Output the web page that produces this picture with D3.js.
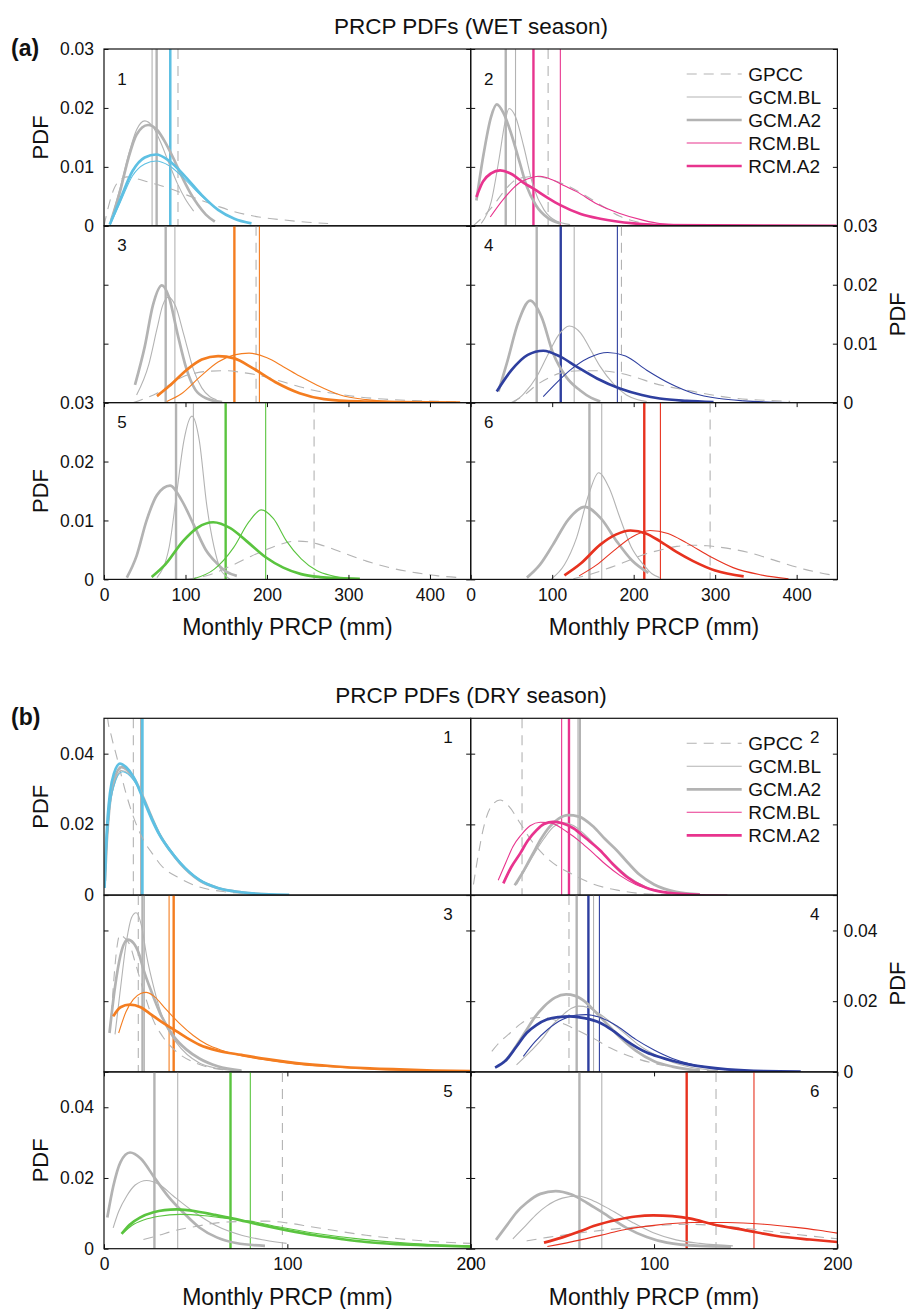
<!DOCTYPE html>
<html><head><meta charset="utf-8">
<script src="https://cdn.jsdelivr.net/npm/d3@7"></script>
<style>body{margin:0;background:#fff}svg{display:block;font-family:"Liberation Sans",Arial,Helvetica,sans-serif}</style>
</head><body><svg id="c" width="914" height="1309"></svg>
<script>
// ---------- DATA ----------
const SERIES = ["GPCC","GCM.BL","GCM.A2","RCM.BL","RCM.A2"];
const PANEL_COLORS = ["#5ec0e3","#e8348e","#f47d20","#2e3f9f","#5ac43f","#e7321f"];
const WET_X_TICKS = [0,100,200,300,400];
const DRY_X_TICKS = [0,100,200];
const WET_Y_TICKS = [0,0.01,0.02,0.03];
const DRY_Y_TICKS = [0,0.02,0.04];
const TITLES = ["PRCP PDFs (WET season)","PRCP PDFs (DRY season)"];
const FIG_LABELS = ["(a)","(b)"];

// WET season: each panel = [GPCC, GCM.BL, GCM.A2, RCM.BL, RCM.A2] as [mm, pdf]
const wet1 = [
 [[0,0],[5,0.003],[12,0.0062],[20,0.0078],[28,0.0083],[40,0.008],[55,0.0074],[70,0.0068],[85,0.0061],[100,0.0053],[120,0.0043],[140,0.0033],[160,0.0024],[190,0.0015],[220,0.001],[250,0.0006],[275,0.0004]],
 [[8,0.001],[20,0.0065],[30,0.012],[40,0.0163],[50,0.0178],[60,0.0168],[70,0.014],[80,0.0105],[90,0.0072],[100,0.0045],[110,0.0025]],
 [[12,0.002],[20,0.006],[30,0.0115],[40,0.0155],[54,0.0171],[65,0.0163],[75,0.0142],[85,0.0115],[95,0.0085],[105,0.0058],[115,0.0036],[125,0.0019],[136,0.0007]],
 [[8,0.0003],[20,0.004],[35,0.0085],[50,0.0105],[64,0.011],[80,0.0102],[100,0.0078],[120,0.005],[140,0.0027],[160,0.0012],[180,0.0004]],
 [[7,0.0002],[20,0.0045],[35,0.0093],[50,0.0116],[64,0.0121],[80,0.011],[100,0.0083],[120,0.0052],[140,0.0027],[160,0.0012],[181,0.0004]]
];
const wet1Means = [90.8,59,64.6,80.5,81.4];
const wet2 = [
 [[3,0],[15,0.0015],[28,0.0035],[40,0.0057],[52,0.0075],[65,0.0082],[80,0.0084],[95,0.008],[110,0.0073],[122,0.0066],[140,0.0052],[160,0.0035],[183,0.0016],[210,0.0005],[240,0.0001]],
 [[13,0.0004],[25,0.004],[35,0.0115],[42,0.0175],[47,0.0199],[55,0.0185],[65,0.0135],[77,0.0066],[90,0.0027],[105,0.0008],[122,0.0002]],
 [[7,0.0043],[15,0.0115],[25,0.0185],[32,0.0206],[40,0.0192],[50,0.0155],[60,0.0108],[69,0.0066],[80,0.0035],[95,0.0013],[110,0.0004]],
 [[24,0.0015],[40,0.0045],[60,0.0073],[75,0.0082],[85,0.0084],[100,0.0078],[115,0.0068],[130,0.0058],[155,0.0037],[183,0.0021],[210,0.001],[232,0.0004],[280,0.0001],[449,0]],
 [[7,0.0049],[15,0.0075],[25,0.0089],[36,0.0094],[50,0.0088],[65,0.0073],[77,0.0063],[95,0.0047],[110,0.0035],[135,0.002],[159,0.0012],[200,0.0004],[232,0.0001],[449,0]]
];
const wet2Means = [95,55,43,110,77];
const wet3 = [
 [[36,0],[50,0.0007],[65,0.0016],[80,0.003],[97,0.0044],[112,0.005],[126,0.0053],[150,0.0054],[170,0.0051],[188,0.0047],[215,0.0037],[240,0.0027],[260,0.002],[281,0.0016],[310,0.001],[343,0.0006],[390,0.0003],[437,0.0001]],
 [[40,0.0013],[55,0.0065],[65,0.0125],[72,0.0165],[79,0.0179],[88,0.0163],[98,0.0115],[110,0.0055],[120,0.0025],[130,0.001],[138,0.0005]],
 [[38,0.003],[50,0.0095],[60,0.0165],[71,0.0199],[80,0.0178],[90,0.0118],[101,0.0058],[112,0.0022],[126,0.0007],[145,0.0001]],
 [[77,0.0002],[95,0.0015],[118,0.0044],[140,0.0069],[160,0.0081],[178,0.0084],[200,0.0076],[220,0.0061],[240,0.0045],[261,0.003],[290,0.0013],[322,0.0005],[360,0.0001],[437,0]],
 [[65,0.0011],[80,0.0028],[101,0.0055],[120,0.0073],[140,0.0079],[160,0.0075],[183,0.0058],[210,0.0035],[240,0.0016],[270,0.0006],[314,0.0002],[360,0.0001],[437,0]]
];
const wet3Means = [186.6,87,75.7,190.7,160];
const wet4 = [
 [[50,0],[65,0.0012],[81,0.003],[96,0.0042],[110,0.005],[134,0.0054],[155,0.0054],[183,0.005],[205,0.0042],[224,0.0033],[250,0.0025],[273,0.0019],[300,0.0012],[327,0.0007],[360,0.0004],[392,0.0002]],
 [[52,0],[65,0.0015],[81,0.0044],[95,0.0082],[108,0.0115],[121,0.013],[135,0.0118],[147,0.009],[159,0.0061],[175,0.0032],[191,0.0013],[205,0.0005],[216,0.0002]],
 [[34,0.0019],[45,0.007],[58,0.0135],[73,0.0173],[87,0.0145],[101,0.0084],[118,0.0042],[134,0.0021],[148,0.0008],[159,0.0002]],
 [[89,0.001],[105,0.0033],[122,0.0055],[145,0.0076],[168,0.0085],[190,0.0079],[216,0.0055],[245,0.0032],[273,0.0016],[305,0.0007],[335,0.0003],[392,0]],
 [[32,0.0019],[50,0.0055],[70,0.0081],[89,0.0088],[110,0.0078],[130,0.0061],[155,0.0041],[183,0.0024],[210,0.0013],[232,0.0007],[265,0.0003],[298,0.0001]]
];
const wet4Means = [185,127,81,180,110.5];
const wet5 = [
 [[101,0],[130,0.0008],[159,0.0025],[180,0.0039],[200,0.0051],[220,0.0061],[235,0.0065],[250,0.0064],[265,0.0059],[290,0.0047],[322,0.0031],[350,0.002],[384,0.0011],[410,0.0006],[437,0.0003]],
 [[65,0.0003],[80,0.0055],[89,0.0144],[98,0.0235],[108,0.0277],[117,0.0235],[126,0.0127],[135,0.0055],[142,0.002],[150,0.0005],[155,0]],
 [[28,0.0003],[40,0.004],[52,0.0099],[65,0.0143],[81,0.0159],[95,0.0135],[110,0.0093],[125,0.005],[138,0.0028],[150,0.0013],[163,0.0006]],
 [[110,0.0001],[135,0.0017],[159,0.0054],[178,0.0098],[193,0.0118],[208,0.0103],[224,0.0065],[242,0.0035],[261,0.0015],[280,0.0006],[294,0.0002]],
 [[58.5,0.0004],[75,0.0025],[97,0.0065],[115,0.0088],[134,0.0097],[155,0.0087],[175,0.0065],[198,0.0038],[220,0.002],[242,0.0009],[265,0.0004],[290,0.0002],[314,0.0001]]
];
const wet5Means = [257.8,109.7,88.4,198.4,149.3];
const wet6 = [
 [[126,0.0001],[150,0.001],[171,0.002],[190,0.003],[212,0.0042],[233,0.005],[253,0.0056],[270,0.0058],[290,0.0057],[314,0.0053],[340,0.0046],[376,0.0031],[410,0.0017],[449,0.0006]],
 [[99,0.0001],[115,0.0025],[130,0.0071],[145,0.0145],[157,0.0181],[170,0.0155],[183,0.0105],[197,0.0055],[212,0.0025],[222,0.001],[232,0.0003]],
 [[69,0.0003],[85,0.0025],[101,0.0059],[120,0.0102],[140,0.0123],[160,0.0103],[179,0.0065],[198,0.0032],[218,0.0011]],
 [[133,0.0006],[155,0.0025],[175,0.0048],[198,0.0072],[220,0.0083],[242,0.0078],[265,0.0062],[295,0.0038],[322,0.002],[355,0.0008],[390,0.0001]],
 [[115,0.0007],[135,0.0027],[159,0.0059],[178,0.0076],[196,0.0083],[215,0.0078],[232,0.0065],[252,0.0047],[273,0.0031],[300,0.0015],[335,0.0005]]
];
const wet6Means = [293.8,160.8,145.7,232.8,213];

// DRY season
const dry1 = [
 [[0.5,0.06],[2,0.05],[4,0.045],[7,0.039],[11.5,0.0297],[16,0.0222],[21.5,0.0156],[27,0.0113],[30.5,0.0088],[41.5,0.0047],[52,0.0023],[65,0.001],[80,0.0004],[95,0.0001]],
 [[0.5,0.003],[1.5,0.014],[3,0.024],[5.5,0.031],[9.5,0.0352],[13,0.0345],[17,0.032],[21.5,0.0272],[26,0.0218],[30.5,0.0168],[36,0.0125],[41.5,0.009],[52,0.0042],[62,0.002],[75,0.0008],[90,0.0002]],
 [[0.5,0.004],[1.5,0.015],[3,0.025],[5.5,0.0325],[9.5,0.0362],[13,0.0352],[17,0.0325],[21.5,0.0275],[26,0.022],[30.5,0.017],[36,0.0126],[41.5,0.009],[52,0.0042],[62,0.002],[75,0.0008],[90,0.0002]],
 [[0.5,0.003],[1.5,0.014],[3,0.024],[5.5,0.031],[10,0.0349],[14,0.0338],[18,0.031],[22,0.027],[26,0.0222],[30.5,0.0173],[36,0.013],[41.5,0.0094],[52,0.0044],[62,0.0021],[75,0.0008],[90,0.0002],[101,0.0001]],
 [[0.3,0.002],[1,0.0127],[2,0.022],[3.3,0.029],[5.5,0.0345],[8.7,0.0372],[12,0.0362],[16,0.0335],[21.5,0.027],[26,0.0215],[30.5,0.0168],[36,0.0126],[41.5,0.0091],[52,0.0043],[62,0.002],[75,0.0008],[90,0.0002],[101,0.0001]]
];
const dry1Means = [16,20,20.3,20.5,21];
const dry2 = [
 [[1.5,0.003],[4,0.011],[7,0.019],[10.5,0.0245],[16,0.0269],[21,0.025],[27,0.0203],[33,0.0155],[39.6,0.0115],[47,0.0083],[54,0.0063],[67,0.0031],[80,0.0014],[94,0.0004],[110,0.0001]],
 [[25,0.003],[30,0.0075],[35,0.012],[40,0.016],[45,0.0192],[50,0.0205],[56,0.0197],[62,0.0172],[70,0.013],[78,0.0088],[86,0.0052],[96,0.0022],[108,0.0007],[122,0.0001]],
 [[24,0.0028],[29,0.007],[34,0.0118],[38.5,0.016],[43,0.0193],[48,0.0216],[53,0.0226],[59,0.0222],[67,0.0193],[73,0.016],[79.6,0.0127],[86,0.009],[92,0.0058],[100,0.003],[112,0.0009],[125,0.0002]],
 [[15,0.0042],[19,0.009],[23,0.0137],[27.5,0.017],[32.4,0.0196],[38,0.0206],[43,0.0205],[52.4,0.0179],[60,0.015],[67,0.0118],[74,0.0085],[81.5,0.0055],[90,0.003],[103,0.0011],[120,0.0002],[140,0]],
 [[17.8,0.0033],[22,0.0078],[27,0.0118],[31,0.0153],[36,0.0184],[40,0.0201],[45,0.0207],[50,0.0203],[56,0.0189],[63,0.016],[70.5,0.0127],[78,0.0085],[85,0.0052],[95,0.0022],[107,0.0007],[125,0.0001]]
];
const dry2Means = [28,58.5,59.5,49.6,53.6];
const dry3 = [
 [[4,0.016],[5.5,0.027],[7,0.035],[8.7,0.0388],[11,0.038],[14,0.036],[17,0.031],[19.5,0.0265],[23,0.0205],[27,0.0145],[32,0.01],[40,0.0055],[50,0.0025],[60,0.001],[75,0.0003]],
 [[6,0.0106],[8.7,0.0223],[12.4,0.0374],[15,0.0436],[17.5,0.045],[20.5,0.0412],[23.3,0.0327],[27,0.0242],[30.5,0.0176],[34,0.0129],[39.6,0.0082],[52,0.0025],[62,0.001],[75,0.0003]],
 [[3,0.011],[6,0.024],[9,0.033],[13,0.0374],[16,0.0365],[19,0.0335],[21.5,0.029],[26,0.0225],[30.5,0.0167],[37.8,0.0102],[45,0.0063],[52,0.0038],[62,0.0016],[75,0.0004]],
 [[8,0.011],[12,0.017],[16,0.0205],[20,0.0222],[23,0.0225],[27,0.0215],[34,0.0176],[41,0.0138],[48.7,0.0103],[56,0.0078],[65,0.006],[75,0.0046],[89,0.0033],[105,0.0022],[125,0.0014],[150,0.0007],[175,0.0003],[200,0.0001]],
 [[5,0.0157],[9,0.0183],[14,0.019],[20,0.0183],[25,0.0165],[31,0.0143],[38,0.012],[45,0.0097],[52,0.0077],[62,0.006],[75,0.0048],[89,0.0036],[105,0.0025],[125,0.0016],[145,0.001],[161,0.0007],[180,0.0004],[200,0.0002]]
];
const dry3Means = [18.7,22,21,35.5,38];
const dry4 = [
 [[11.5,0.0058],[16,0.0085],[21.5,0.011],[27,0.0135],[34,0.0153],[40,0.0154],[45,0.0148],[52,0.0133],[58,0.0118],[67,0.0095],[76,0.0068],[88,0.0042],[100,0.0024],[115,0.0011],[130,0.0004],[145,0.0001]],
 [[25,0.002],[33,0.006],[40,0.01],[45,0.0135],[50,0.016],[55,0.018],[59,0.0186],[64,0.0182],[70,0.0165],[77,0.0138],[85,0.0105],[92,0.0075],[100,0.005],[110,0.0027],[120,0.0013],[135,0.0003]],
 [[19,0.003],[25,0.0075],[30,0.0115],[35,0.0155],[40,0.0185],[46,0.021],[52,0.0219],[57,0.0215],[62,0.02],[68,0.017],[75,0.0132],[82,0.0095],[90,0.006],[100,0.003],[110,0.0015],[125,0.0003]],
 [[28.7,0.0044],[35,0.0085],[42,0.012],[50,0.0148],[57,0.016],[63,0.0162],[70,0.0155],[80,0.0129],[90,0.0092],[100,0.0062],[110,0.0038],[120,0.0022],[135,0.0009],[155,0.0002]],
 [[13.3,0.0012],[19.6,0.0035],[25,0.0072],[30.5,0.011],[36,0.0133],[41.5,0.0148],[48,0.0155],[54,0.0157],[62,0.0152],[70.5,0.0139],[78,0.0115],[85,0.0088],[96,0.0055],[103,0.0042],[118,0.0022],[140,0.0007],[160,0.0002],[180,0.0001]]
];
const dry4Means = [53.6,67,57.8,70.2,64.2];
const dry5 = [
 [[21.5,0.0026],[30,0.0038],[37.8,0.005],[50,0.0063],[61.5,0.0073],[75,0.0077],[88.7,0.0078],[100,0.0073],[112,0.0063],[125,0.0052],[143,0.0038],[161,0.0028],[180,0.002],[200,0.0015]],
 [[5,0.0059],[8,0.0105],[12.4,0.0149],[17,0.018],[23.3,0.0193],[30,0.0182],[37.8,0.0149],[48,0.0108],[61.5,0.0064],[75,0.0038],[88,0.0024],[99.6,0.0015]],
 [[1.8,0.0088],[5,0.0175],[9,0.0245],[14.2,0.0272],[20,0.0255],[27.5,0.0201],[35,0.0148],[43.3,0.0102],[52,0.006],[61.5,0.0032],[72,0.0016],[87.8,0.0008]],
 [[10.5,0.0045],[15,0.0065],[22,0.0082],[30,0.0092],[41.5,0.0097],[55,0.0093],[68,0.0085],[79.6,0.0078],[95,0.0062],[116,0.0043],[140,0.0027],[165,0.0016],[185,0.001],[200,0.0008]],
 [[9.6,0.0042],[14,0.0068],[19.6,0.0088],[27,0.0103],[33,0.0109],[39.6,0.0111],[50,0.0106],[60,0.0096],[70.5,0.0085],[85,0.0068],[100,0.0052],[115,0.0038],[130,0.0027],[143,0.0019],[160,0.0013],[180,0.0009],[200,0.0006]]
];
const dry5Means = [97.3,40.2,27.5,79.8,69];
const dry6 = [
 [[30.5,0.0022],[42,0.0032],[54,0.0041],[70,0.0051],[85,0.0059],[100,0.0065],[118,0.0069],[133,0.0066],[149,0.0058],[170,0.0045],[185,0.0036],[200,0.0028]],
 [[23,0.0028],[30,0.0065],[36,0.0098],[41.5,0.0121],[50,0.0143],[58.7,0.0149],[67,0.0135],[76,0.0111],[88,0.0075],[99.6,0.0045],[112,0.0025],[125,0.0015],[143,0.0008]],
 [[13.8,0.0025],[20,0.0068],[25,0.0103],[30.5,0.013],[38,0.0155],[46.4,0.0163],[55,0.0153],[63.3,0.013],[72,0.0102],[85,0.0059],[96,0.0033],[107,0.0017],[125,0.0008],[142,0.0006]],
 [[41.8,0.0006],[60,0.0025],[75,0.0043],[85,0.0055],[100,0.0066],[121,0.0074],[140,0.0074],[160,0.0069],[176,0.0061],[190,0.0052],[200,0.0044]],
 [[40,0.0017],[50,0.0032],[60,0.005],[67,0.0064],[80,0.0082],[90,0.0091],[99.6,0.0094],[110,0.0092],[120,0.0085],[132,0.0069],[150,0.0052],[167,0.0036],[185,0.0026],[200,0.0019]]
];
const dry6Means = [133.8,71.5,59.3,154.5,117.8];

// ---------- LAYOUT ----------
const svg = d3.select("#c");
svg.append("rect").attr("width",914).attr("height",1309).attr("fill","#fff");
const FONT = '"Liberation Sans",Arial,Helvetica,sans-serif';
const colX = [104, 470.7];
const colW = 366.7;
const rowH = 176.8;
const figTop = [49, 718.3];
const GRAY = "#b3b3b3";

const figs = [
  {panels:[wet1,wet2,wet3,wet4,wet5,wet6], means:[wet1Means,wet2Means,wet3Means,wet4Means,wet5Means,wet6Means],
   xmax:450, ymax:0.03, xt:WET_X_TICKS, yt:WET_Y_TICKS, numPos:"left"},
  {panels:[dry1,dry2,dry3,dry4,dry5,dry6], means:[dry1Means,dry2Means,dry3Means,dry4Means,dry5Means,dry6Means],
   xmax:200, ymax:0.05, xt:DRY_X_TICKS, yt:DRY_Y_TICKS, numPos:"right"}
];

function seriesStyle(i, color){
  if(i===0) return {stroke:GRAY, w:1.1, dash:"10,7"};
  if(i===1) return {stroke:GRAY, w:1.1, dash:null};
  if(i===2) return {stroke:GRAY, w:2.7, dash:null};
  if(i===3) return {stroke:color, w:1.1, dash:null};
  return {stroke:color, w:2.7, dash:null};
}
function vStyle(i, color){
  const s = seriesStyle(i,color);
  return {stroke:s.stroke, w:(i===2||i===4)?2.4:1.1, dash:s.dash};
}
const fmtY = v => v===0 ? "0" : v.toFixed(2);

figs.forEach((F, fi) => {
  const top = figTop[fi];
  const x = d3.scaleLinear().domain([0,F.xmax]).range([0,colW]);
  const y = d3.scaleLinear().domain([0,F.ymax]).range([rowH,0]);
  const line = d3.line().x(d=>x(d[0])).y(d=>y(d[1])).curve(d3.curveMonotoneX);

  // title & figure label
  svg.append("text").attr("x",471).attr("y",top-15).attr("text-anchor","middle")
    .attr("font-size",22.5).attr("fill","#111").text(TITLES[fi]);
  svg.append("text").attr("x",11).attr("y",top+7).attr("font-size",23).attr("font-weight","bold")
    .attr("fill","#111").text(FIG_LABELS[fi]);

  F.panels.forEach((curves, pi) => {
    const col = pi % 2, row = Math.floor(pi/2);
    const gx = colX[col], gy = top + row*rowH;
    const color = PANEL_COLORS[pi];
    const g = svg.append("g").attr("transform",`translate(${gx},${gy})`);
    const cid = `clip${fi}_${pi}`;
    g.append("clipPath").attr("id",cid).append("rect").attr("width",colW).attr("height",rowH);
    const body = g.append("g").attr("clip-path",`url(#${cid})`);

    // mean lines
    F.means[pi].forEach((m, si) => {
      const s = vStyle(si,color);
      body.append("line").attr("x1",x(m)).attr("x2",x(m)).attr("y1",0).attr("y2",rowH)
        .attr("stroke",s.stroke).attr("stroke-width",s.w).attr("stroke-dasharray",s.dash);
    });
    // pdf curves
    curves.forEach((pts, si) => {
      const s = seriesStyle(si,color);
      body.append("path").attr("d",line(pts)).attr("fill","none")
        .attr("stroke",s.stroke).attr("stroke-width",s.w).attr("stroke-dasharray",s.dash);
    });

    // y axes (inward ticks)
    const showLeft = col===0 && row!==1;
    const showRight = col===1 && row===1;
    const ax1 = g.append("g").call(d3.axisLeft(y).tickValues(F.yt).tickSizeInner(-4.5).tickSizeOuter(0).tickPadding(10)
        .tickFormat(showLeft?fmtY:()=>""));
    const ax2 = g.append("g").attr("transform",`translate(${colW},0)`)
      .call(d3.axisRight(y).tickValues(F.yt).tickSizeInner(-4.5).tickSizeOuter(0).tickPadding(6)
        .tickFormat(showRight?fmtY:()=>""));
    [ax1,ax2].forEach(a=>{
      a.select(".domain").remove();
      a.selectAll("line").attr("stroke","#111").attr("stroke-width",1);
      a.selectAll("text").attr("font-size",17.5).attr("font-family",FONT).attr("fill","#111");
    });

    // x axes on bottom row
    if(row===2){
      const bx = g.append("g").attr("transform",`translate(0,${rowH})`)
        .call(d3.axisBottom(x).tickValues(F.xt).tickSizeInner(-4.5).tickSizeOuter(0).tickPadding(9).tickFormat(d3.format("d")));
      const tx = g.append("g")
        .call(d3.axisTop(x).tickValues(F.xt).tickSizeInner(-4.5).tickSizeOuter(0).tickFormat(()=>""));
      [bx,tx].forEach(a=>{
        a.select(".domain").remove();
        a.selectAll("line").attr("stroke","#111").attr("stroke-width",1);
        a.selectAll("text").attr("font-size",17.5).attr("font-family",FONT).attr("fill","#111");
      });
      g.append("text").attr("x",colW/2).attr("y",rowH+56).attr("text-anchor","middle")
        .attr("font-size",23).attr("fill","#111").text("Monthly PRCP (mm)");
    }

    // frame
    g.append("rect").attr("width",colW).attr("height",rowH).attr("fill","none")
      .attr("stroke","#111").attr("stroke-width",1.2);

    // panel number
    if(F.numPos==="left"){
      g.append("text").attr("x",18).attr("y",(row===0?30:19)).attr("dy","0.36em").attr("text-anchor","middle")
        .attr("font-size",17).attr("fill","#111").text(pi+1);
    } else {
      g.append("text").attr("x",colW-22.7).attr("y",19).attr("dy","0.36em").attr("text-anchor","middle")
        .attr("font-size",17).attr("fill","#111").text(pi+1);
    }

    // PDF labels
    if(showLeft){
      svg.append("text").attr("transform",`translate(40,${gy+rowH/2}) rotate(-90)`).attr("text-anchor","middle")
        .attr("dy","0.36em").attr("font-size",22).attr("fill","#111").text("PDF");
    }
    if(showRight){
      svg.append("text").attr("transform",`translate(897,${gy+rowH/2}) rotate(-90)`).attr("text-anchor","middle")
        .attr("dy","0.36em").attr("font-size",22).attr("fill","#111").text("PDF");
    }

    // legend in panel 2
    if(pi===1){
      SERIES.forEach((name, si) => {
        const s = seriesStyle(si,color);
        const ly = 25 + 23*si;
        g.append("line").attr("x1",216).attr("x2",271).attr("y1",ly).attr("y2",ly)
          .attr("stroke",s.stroke).attr("stroke-width",s.w).attr("stroke-dasharray",s.dash);
        g.append("text").attr("x",277.5).attr("y",ly).attr("dy","0.36em").attr("font-size",19)
          .attr("fill","#111").text(name);
      });
    }
  });
});
</script></body></html>
